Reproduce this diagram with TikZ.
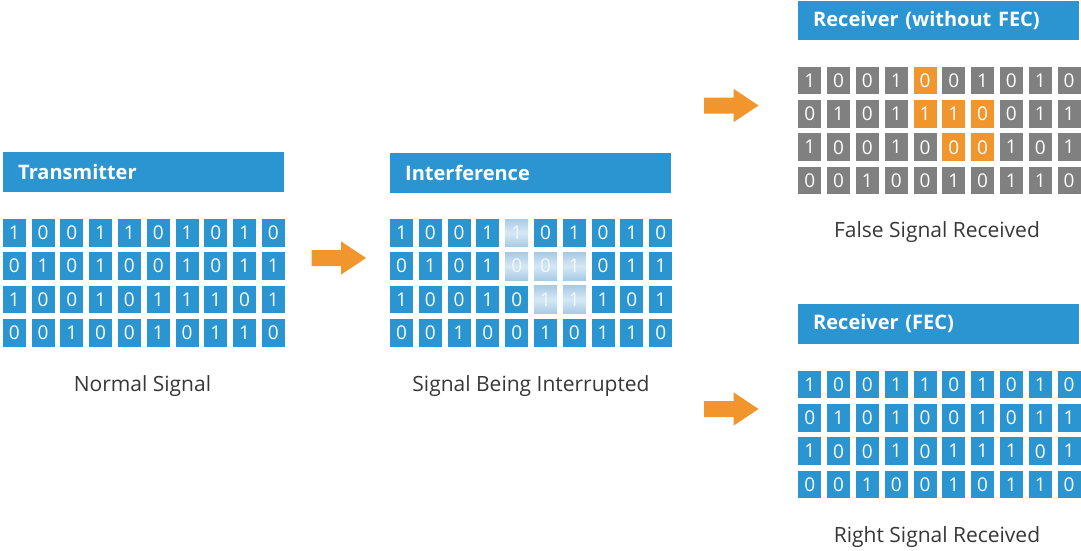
\documentclass[tikz,border=0pt]{standalone}
\usepackage{fontspec}
\setmainfont{Open Sans}
\usetikzlibrary{positioning}
\definecolor{fecblue}{RGB}{43,149,210}
\definecolor{errorange}{RGB}{240,150,45}
\definecolor{bitgray}{RGB}{128,128,128}
\definecolor{captext}{RGB}{55,55,55}
\definecolor{noiseA}{RGB}{168,202,228}
\definecolor{noiseB}{RGB}{214,232,246}
\tikzset{
  bit/.style={rectangle, minimum width=23pt, minimum height=27.7pt, inner sep=0pt,
              fill=fecblue, text=white, font=\fontsize{19}{19}\selectfont},
  graybit/.style={bit, fill=bitgray},
  badbit/.style={bit, fill=errorange},
  noisybit/.style={bit, top color=noiseA, bottom color=noiseA, middle color=noiseB,
                   text=white!85!noiseA},
  header/.style={anchor=north west, fill=fecblue, text=white, inner xsep=15pt, inner ysep=0pt,
                 text width=251pt, minimum height=39.5pt, align=left,
                 font=\bfseries\fontsize{20}{20}\selectfont},
  caption/.style={anchor=base, text=captext, font=\fontsize{21}{21}\selectfont},
  blockarrow/.style={fill=errorange}
}
% grid of bits: name, left, top, style, rows
\newcommand{\bitgrid}[5]{%
  \foreach \row [count=\j from 0] in {#5} {
    \foreach \b [count=\i from 0] in \row {
      \node[#4] (#1-\j-\i) at ({#2+11.5+28.8*\i},{#3+13.85+33.33*\j}) {\b};
    }
  }
}
% orange block arrow: name, left, middle
\newcommand{\sendarrow}[3]{%
  \coordinate (#1) at (#2,#3);
  \fill[blockarrow] (#2,#3-8) -- ++(29.5,0) -- ++(0,-8.7) -- (#2+54.5,#3)
    -- (#2+29.5,#3+16.7) -- ++(0,-8.7) -- (#2,#3+8) -- cycle;
}

\begin{document}
\begin{tikzpicture}[x=1pt, y=-1pt]
        \useasboundingbox (0,0) rectangle (1081,551);

        % --- Transmitter
        \node[header] (tx-head) at (3,152) {Transmitter};
        \bitgrid{tx}{2.7}{219}{bit}{{1,0,0,1,1,0,1,0,1,0},{0,1,0,1,0,0,1,0,1,1},
                                    {1,0,0,1,0,1,1,1,0,1},{0,0,1,0,0,1,0,1,1,0}}
        \node[caption] (tx-cap) at (142.5,391.5) {Normal Signal};

        % --- Interference
        \node[header] (if-head) at (390,153) {Interference};
        \bitgrid{if}{390}{219}{bit}{{1,0,0,1,1,0,1,0,1,0},{0,1,0,1,0,0,1,0,1,1},
                                    {1,0,0,1,0,1,1,1,0,1},{0,0,1,0,0,1,0,1,1,0}}
        \foreach \j/\i/\b in {0/4/1, 1/4/0, 1/5/0, 1/6/1, 2/5/1, 2/6/1}
          \node[noisybit] (if-\j-\i) at ({390+11.5+28.8*\i},{219+13.85+33.33*\j}) {\b};
        \node[caption] (if-cap) at (531,391.5) {Signal Being Interrupted};

        % --- Receiver without FEC
        \node[header] (nf-head) at (798,0.5) {Receiver (without FEC)};
        \bitgrid{nf}{798.3}{66.7}{graybit}{{1,0,0,1,0,0,1,0,1,0},{0,1,0,1,1,1,0,0,1,1},
                                            {1,0,0,1,0,0,0,1,0,1},{0,0,1,0,0,1,0,1,1,0}}
        \foreach \j/\i/\b in {0/4/0, 1/4/1, 1/5/1, 1/6/0, 2/5/0, 2/6/0}
          \node[badbit] (nf-\j-\i) at ({798.3+11.5+28.8*\i},{66.7+13.85+33.33*\j}) {\b};
        \node[caption] (nf-cap) at (937,237) {False Signal Received};

        % --- Receiver with FEC
        \node[header] (fec-head) at (798,304) {Receiver (FEC)};
        \bitgrid{fec}{798.3}{370.7}{bit}{{1,0,0,1,1,0,1,0,1,0},{0,1,0,1,0,0,1,0,1,1},
                                          {1,0,0,1,0,1,1,1,0,1},{0,0,1,0,0,1,0,1,1,0}}
        \node[caption] (fec-cap) at (937,542) {Right Signal Received};

        % --- Arrows
        \sendarrow{a1}{311.5}{258}
        \sendarrow{a2}{704}{105.5}
        \sendarrow{a3}{704}{409}

        \end{tikzpicture}
\end{document}
